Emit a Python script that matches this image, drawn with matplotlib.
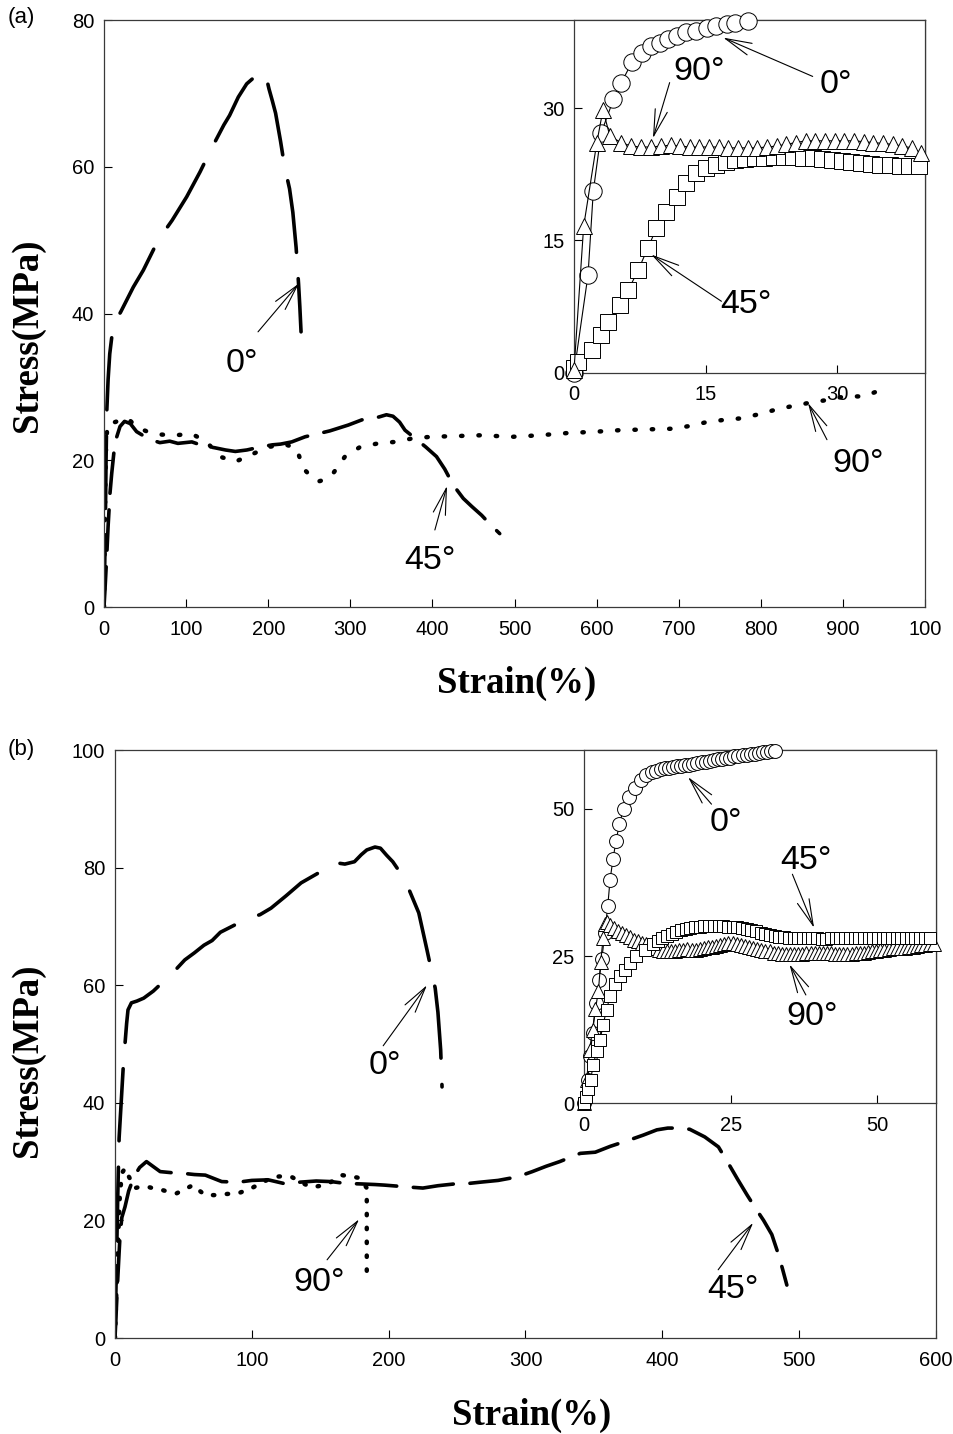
import matplotlib
matplotlib.use("Agg")
import matplotlib.pyplot as plt

plt.rcParams["font.family"] = ["Liberation Sans", "DejaVu Sans"]
plt.rcParams["lines.scale_dashes"] = False

# ---- panel (a): large-strain curves, strain (%) vs stress (MPa)
A0_STRAIN = [0, 1.5, 2.5, 3.5, 5, 7, 9.7, 14, 20.3, 35.7, 47.9, 66, 83, 100.7, 117, 131,
             146, 153, 163.6, 173.8, 182, 190, 194, 197, 201, 205, 209, 215, 220, 226,
             230, 234, 237, 238.5, 240]
A0_STRESS = [0, 10, 20, 27, 31, 34.5, 37, 39, 40.2, 43.6, 45.9, 50, 52.7, 55.9, 59.3, 62.5,
             65.7, 67, 69.5, 71.3, 72.1, 72.6, 72.2, 72.5, 70.6, 69, 67.3, 63.5, 60, 57,
             53.8, 49, 44, 41, 37.5]

A45_STRAIN = [0, 1.5, 3.3, 5, 7.3, 9.4, 12, 15, 19.5, 25, 32, 39.7, 50, 60, 68, 80, 90,
              107, 120, 135, 148, 160, 174, 190, 205, 215, 228.6, 245, 260, 275, 297.6,
              314, 325, 335, 344, 352, 360, 366.6, 378.8, 392, 405, 415, 425.5, 437.6,
              448, 460, 470, 482]
A45_STRESS = [0, 3, 6.9, 11, 15.5, 18.2, 21, 23, 24.6, 25.3, 25, 23.9, 23.2, 22.7, 22.4,
              22.6, 22.3, 22.5, 22, 21.7, 21.4, 21.2, 21.4, 21.8, 22.1, 22.2, 22.5, 23.2,
              23.6, 24.0, 24.8, 25.5, 25.7, 25.9, 26.2, 26.0, 25.2, 24.1, 23, 21.8, 20.5,
              18.8, 16.6, 14.8, 13.7, 12.5, 11.3, 10]

A90_STRAIN = [0, 0.8, 1.6, 2.5, 4, 8, 13.6, 20, 29, 40, 55, 70, 86, 107, 125, 141, 160,
              180, 200, 220, 234.6, 242.7, 252, 261, 270, 279, 293.5, 311.8, 334, 354.4,
              376.7, 399, 430, 458, 498, 530, 563.6, 600, 628.5, 660, 693, 715, 734, 755,
              774.7, 795, 815, 835, 857.8, 880, 902.5, 925, 947]
A90_STRESS = [0, 9, 17, 22, 24.5, 25.3, 25.2, 25.5, 25.7, 24.5, 23.8, 23.5, 23.4, 23.6,
              22.5, 20.5, 19.8, 20.8, 21.8, 22.2, 21.6, 18.9, 17.8, 17.1, 17.4, 18.2, 20.5,
              21.8, 22.3, 22.5, 23, 23.2, 23.3, 23.4, 23.2, 23.4, 23.7, 23.9, 24.1, 24.2,
              24.3, 24.7, 25.2, 25.5, 25.7, 26.2, 26.8, 27.3, 27.8, 28.2, 28.7, 28.7, 29.6]

# ---- panel (a) inset: initial region
IA_0_X = [0, 1.6, 2.2, 3.1, 4.5, 5.4, 6.6, 7.7, 8.8, 9.8, 10.7, 11.7, 12.8, 13.9, 15.1,
          16.2, 17.4, 18.3, 19.8]
IA_0_Y = [0, 11.1, 20.6, 27.2, 31.0, 32.9, 35.2, 36.3, 37.0, 37.4, 37.8, 38.2, 38.6, 38.8,
          39.1, 39.3, 39.5, 39.7, 39.9]

IA_45_X = [0, 0.5, 2.0, 3.1, 3.9, 5.2, 6.2, 7.3, 8.4, 9.4, 10.5, 11.7, 12.8, 13.9, 15.0,
           16.2, 17.3, 18.4, 19.5, 20.6, 21.7, 22.8, 23.9, 25.0, 26.1, 27.2, 28.3, 29.4,
           30.5, 31.6, 32.7, 33.8, 34.9, 36.0, 37.1, 38.2, 39.3]
IA_45_Y = [0.5, 1.2, 2.6, 4.3, 5.8, 7.7, 9.4, 11.6, 14.1, 16.4, 18.2, 19.9, 21.5, 22.6,
           23.2, 23.6, 23.9, 24.1, 24.2, 24.3, 24.4, 24.5, 24.5, 24.5, 24.4, 24.3, 24.2,
           24.1, 24.0, 23.9, 23.8, 23.7, 23.6, 23.5, 23.4, 23.4, 23.4]

IA_90_X = [0, 1.1, 2.6, 3.3, 4.1, 5.4, 6.5, 7.6, 8.8, 9.9, 11.0, 12.1, 13.2, 14.3, 15.4,
           16.5, 17.6, 18.7, 19.8, 20.9, 22.0, 23.1, 24.2, 25.3, 26.4, 27.5, 28.6, 29.7,
           30.8, 31.9, 33.0, 34.1, 35.2, 36.3, 37.4, 38.5, 39.6]
IA_90_Y = [0.3, 16.6, 26.1, 29.8, 26.8, 26.1, 25.7, 25.6, 25.6, 25.7, 25.8, 25.7, 25.6,
           25.6, 25.6, 25.6, 25.5, 25.5, 25.5, 25.5, 25.6, 25.7, 25.9, 26.1, 26.3, 26.3,
           26.3, 26.3, 26.3, 26.3, 26.2, 26.1, 26.0, 25.9, 25.7, 25.5, 24.9]

# ---- panel (b): large-strain curves
B0_STRAIN = [0, 1, 2, 3, 4.5, 6, 7.3, 8.5, 9.5, 12, 16, 21, 28, 38, 45, 51, 58, 65, 71, 77,
             88, 98, 106, 114, 125, 136, 148, 159, 168, 175, 180, 184, 190, 194, 198.5,
             203, 208, 212, 215, 222, 228, 234, 236, 238, 239]
B0_STRESS = [0, 12, 24, 34, 40, 46, 50, 53.5, 55.8, 57, 57.3, 57.8, 59, 61.2, 62.8, 64.3,
             65.5, 66.8, 67.6, 69, 70.3, 71.4, 72, 73.1, 75.2, 77.4, 79, 80.9, 80.6, 81,
             82.2, 83, 83.5, 83.3, 82.1, 81, 79.3, 78, 76.2, 72.3, 66, 59.5, 55.4, 49, 42.7]

B45_STRAIN = [0, 1, 2, 3, 3.7, 5, 7.3, 10, 14, 18, 23, 33, 42, 50, 58, 66, 78, 90, 100,
              112, 123, 135, 147, 158, 168, 180, 190, 197, 213, 225, 236, 248, 259, 267,
              280, 294, 305, 315, 325, 340, 351, 362, 375, 386, 396, 404, 411, 420, 431,
              441, 448, 455, 462, 468, 474, 480, 485, 488, 491]
B45_STRESS = [0, 5, 10, 14.5, 17.5, 20.5, 22.3, 25, 27.5, 29, 30, 28.3, 28.1, 28, 27.8,
              27.7, 26.6, 26.5, 26.8, 26.9, 26.3, 26.5, 26.7, 26.6, 26.3, 26.2, 26.1, 26,
              25.7, 25.5, 25.9, 26.2, 26.3, 26.5, 26.8, 27.4, 28.3, 29.2, 30, 31.4, 31.6,
              32.6, 33.6, 34.5, 35.4, 35.7, 35.7, 35.5, 34.2, 32.5, 29.8, 27, 24.3, 22.1,
              20, 17.6, 14.1, 11.6, 9]

B90_STRAIN = [0, 1, 2, 3.5, 5, 7.3, 10, 14.6, 20, 24, 29, 34, 40, 45, 51, 57, 62, 66, 71,
              75.5, 82, 90, 100, 108, 115.7, 122, 129, 136, 142.5, 148, 153.5, 160, 165.7,
              172, 179, 184, 184]
B90_STRESS = [0, 8, 15, 24, 28, 28.9, 27.5, 25.5, 25.8, 25.7, 25.4, 25.2, 24.8, 24.6, 25.3,
              26, 25, 24.3, 24.3, 24.3, 24.5, 24.6, 25.5, 26.5, 27.4, 27.5, 27.4, 26.5,
              25.7, 25.8, 26, 26.8, 27.7, 27.5, 27.2, 25.5, 11.2]

# ---- panel (b) inset
IB_0_X = [0, 0.6, 1.0, 1.4, 2.0, 2.5, 3.0, 3.5, 4.0, 4.4,
          4.9, 5.4, 6.0, 6.7, 7.6, 8.6, 9.6, 10.6, 11.5, 12.3,
          13.0, 13.7, 14.4, 15.1, 15.8, 16.5, 17.2, 17.9, 18.6, 19.3,
          20.0, 20.7, 21.4, 22.1, 22.8, 23.5, 24.2, 24.9, 25.6, 26.3,
          27.0, 27.7, 28.4, 29.1, 29.8, 30.5, 31.2, 31.9, 32.6]
IB_0_Y = [0, 4, 8, 12, 17, 21, 24.5, 29, 33.5, 38,
          41.5, 44.5, 47.5, 50, 52, 53.6, 54.9, 55.7, 56.2, 56.5,
          56.7, 56.9, 57.0, 57.1, 57.2, 57.3, 57.4, 57.5, 57.6, 57.8,
          57.9, 58.0, 58.1, 58.3, 58.4, 58.5, 58.6, 58.7, 58.9, 59.0,
          59.1, 59.2, 59.3, 59.4, 59.5, 59.6, 59.7, 59.8, 59.9]

IB_45_X = [0, 0.3, 0.7, 1.1, 1.5, 2.1, 2.7, 3.2, 3.8, 4.4,
           5.2, 6.1, 6.9, 7.8, 8.9, 10.3, 11.7, 12.5, 13.3, 14.1,
           14.9, 15.7, 16.5, 17.3, 18.1, 18.9, 19.7, 20.5, 21.3, 22.1,
           22.9, 23.7, 24.5, 25.3, 26.1, 26.9, 27.7, 28.5, 29.3, 30.1,
           30.9, 31.7, 32.5, 33.3, 34.1, 34.9, 35.7, 36.5, 37.3, 38.1,
           38.9, 39.7, 40.5, 41.3, 42.1, 42.9, 43.7, 44.5, 45.3, 46.1,
           46.9, 47.7, 48.5, 49.3, 50.1, 50.9, 51.7, 52.5, 53.3, 54.1,
           54.9, 55.7, 56.5, 57.3, 58.1, 58.9]
IB_45_Y = [0, 1.0, 2.5, 4.0, 6.5, 8.8, 10.8, 13.3, 15.9, 18.2,
           20.2, 21.6, 22.7, 23.9, 25.0, 26.1, 27.0, 27.5, 28.0, 28.4,
           28.8, 29.1, 29.4, 29.6, 29.8, 29.9, 30.0, 30.1, 30.1, 30.1,
           30.1, 30.1, 30.0, 30.0, 29.9, 29.8, 29.6, 29.4, 29.2, 29.0,
           28.8, 28.6, 28.4, 28.3, 28.2, 28.1, 28.0, 28.0, 28.1, 28.1,
           28.0, 28.0, 27.9, 27.9, 28.0, 28.1, 28.1, 28.0, 28.0, 28.0,
           28.1, 28.1, 28.0, 28.0, 28.0, 28.1, 28.1, 28.0, 28.0, 28.0,
           28.0, 28.1, 28.1, 28.0, 28.0, 28.0]

IB_90_X = [0, 0.4, 0.9, 1.4, 1.9, 2.4, 2.8, 3.2, 3.5, 3.8,
           4.3, 5.0, 5.7, 6.4, 7.1, 7.8, 8.5, 9.2, 9.9, 10.6,
           11.3, 12.0, 12.7, 13.4, 14.1, 14.8, 15.5, 16.2, 16.9, 17.6,
           18.3, 19.0, 19.7, 20.4, 21.1, 21.8, 22.5, 23.2, 23.9, 24.6,
           25.3, 26.0, 26.7, 27.4, 28.1, 28.8, 29.5, 30.2, 30.9, 31.6,
           32.3, 33.0, 33.7, 34.4, 35.1, 35.8, 36.5, 37.2, 37.9, 38.6,
           39.3, 40.0, 40.7, 41.4, 42.1, 42.8, 43.5, 44.2, 44.9, 45.6,
           46.3, 47.0, 47.7, 48.4, 49.1, 49.8, 50.5, 51.2, 51.9, 52.6,
           53.3, 54.0, 54.7, 55.4, 56.1, 56.8, 57.5, 58.2, 58.9, 59.6]
IB_90_Y = [0, 4, 9, 12.5, 16, 19, 24, 28, 30.5, 30.8,
           30.3, 29.8, 29.3, 28.9, 28.5, 28.2, 27.8, 27.5, 27.2, 27.0,
           26.7, 26.4, 26.1, 25.9, 25.8, 25.8, 25.9, 26.0, 26.1, 26.2,
           26.1, 26.1, 26.2, 26.3, 26.5, 26.6, 26.7, 26.9, 27.1, 27.2,
           27.2, 27.1, 26.9, 26.7, 26.5, 26.4, 26.2, 26.1, 25.9, 25.8,
           25.6, 25.5, 25.4, 25.3, 25.3, 25.3, 25.4, 25.4, 25.5, 25.5,
           25.5, 25.5, 25.6, 25.6, 25.5, 25.4, 25.3, 25.3, 25.3, 25.4,
           25.5, 25.5, 25.6, 25.7, 25.8, 25.9, 26.0, 26.1, 26.2, 26.3,
           26.3, 26.4, 26.4, 26.5, 26.6, 26.7, 26.8, 26.9, 27.0, 27.1]

A_XTICKS = [0, 100, 200, 300, 400, 500, 600, 700, 800, 900, 1000]
A_XTICKLABELS = ["0", "100", "200", "300", "400", "500", "600", "700", "800", "900", "100"]
A_YTICKS = [0, 20, 40, 60, 80]
B_XTICKS = [0, 100, 200, 300, 400, 500, 600]
B_YTICKS = [0, 20, 40, 60, 80, 100]

# line styles (on/off in points, round caps)
DASH_0 = (52, 19)
DASH_45 = (29, 12)
DOT_90_A = (1, 11.5)
DOT_90_B = (1, 9)
SPINE = "#3a3a3a"
TICK_FS = 14.5
ANG_FS = 24.5
LABEL_FONT = dict(family=["Liberation Serif", "DejaVu Serif"], weight="bold", size=26.5)


def _style(ax, xticks, yticks, xlim, ylim, xticklabels=None):
    ax.set_xlim(*xlim)
    ax.set_ylim(*ylim)
    ax.set_xticks(xticks)
    ax.set_yticks(yticks)
    if xticklabels is not None:
        ax.set_xticklabels(xticklabels)
    ax.tick_params(direction="in", length=6, width=0.8, labelsize=TICK_FS, pad=7,
                   colors="black")
    ax.tick_params(axis="x", pad=9)
    for sp in ax.spines.values():
        sp.set_linewidth(0.9)
        sp.set_edgecolor(SPINE)


def _curve(ax, x, y, dashes, lw=2.6):
    ax.plot(x, y, color="black", lw=lw, dashes=dashes,
            dash_capstyle="round", solid_capstyle="round")


def _markers(ax, x, y, marker, ms, z):
    ax.plot(x, y, color="black", lw=0.8, marker=marker, markersize=ms,
            markerfacecolor="white", markeredgecolor="black", markeredgewidth=0.7,
            clip_on=False, zorder=z)


def _tag(ax, text, tip, tail, pos):
    ax.annotate("", xy=tip, xytext=tail,
                arrowprops=dict(arrowstyle="->,head_length=1.9,head_width=0.45",
                                lw=0.8, color="black", mutation_scale=10,
                                shrinkA=0, shrinkB=0), zorder=6)
    ax.text(pos[0], pos[1], text, ha="center", va="center", fontsize=ANG_FS, zorder=6)


fig = plt.figure(figsize=(9.54, 14.34), dpi=100)
W, H = 954.0, 1434.0


def _rect(l, t, r, b):
    return [l / W, 1 - b / H, (r - l) / W, (b - t) / H]


# ---------------- panel (a)
ax_a = fig.add_axes(_rect(104, 20, 925, 607))
_curve(ax_a, A0_STRAIN, A0_STRESS, DASH_0)
_curve(ax_a, A45_STRAIN, A45_STRESS, DASH_45)
_curve(ax_a, A90_STRAIN, A90_STRESS, DOT_90_A, lw=3.2)
_style(ax_a, A_XTICKS, A_YTICKS, (0, 1000), (0, 80), A_XTICKLABELS)
_tag(ax_a, "0°", (237.5, 44.1), (187.6, 37.5), (168, 33.2))
_tag(ax_a, "45°", (417.8, 16.5), (403, 10.5), (397, 6.4))
_tag(ax_a, "90°", (857.5, 27.8), (880.6, 22.8), (918, 19.6))

ins_a = fig.add_axes(_rect(574, 20, 925, 372.7))
ins_a.set_facecolor("white")
_markers(ins_a, IA_0_X, IA_0_Y, "o", 12.5, 3)
_markers(ins_a, IA_45_X, IA_45_Y, "s", 11, 4)
_markers(ins_a, IA_90_X, IA_90_Y, "^", 12, 5)
_style(ins_a, [0, 15, 30], [0, 15, 30], (0, 40), (0, 40))
_tag(ins_a, "0°", (17.0, 38.0), (27.2, 33.6), (29.9, 32.7))
_tag(ins_a, "90°", (9.0, 26.6), (10.9, 32.9), (14.3, 34.2))
_tag(ins_a, "45°", (8.8, 13.4), (16.8, 8.1), (19.6, 7.7))

# ---------------- panel (b)
ax_b = fig.add_axes(_rect(115, 750, 936, 1338))
_curve(ax_b, B0_STRAIN, B0_STRESS, DASH_0)
_curve(ax_b, B45_STRAIN, B45_STRESS, DASH_45)
_curve(ax_b, B90_STRAIN, B90_STRESS, DOT_90_B, lw=3.2)
_style(ax_b, B_XTICKS, B_YTICKS, (0, 600), (0, 100))
_tag(ax_b, "0°", (228, 60), (196, 49.7), (197.4, 46.4))
_tag(ax_b, "90°", (178.4, 20.2), (155, 13.3), (149, 9.4))
_tag(ax_b, "45°", (466.4, 19.6), (440.8, 11.6), (451.8, 8.2))

ins_b = fig.add_axes(_rect(584.3, 750, 936, 1103.3))
ins_b.set_facecolor("white")
_markers(ins_b, IB_0_X, IB_0_Y, "o", 10, 3)
_markers(ins_b, IB_90_X, IB_90_Y, "^", 9.5, 4)
_markers(ins_b, IB_45_X, IB_45_Y, "s", 8.5, 5)
_style(ins_b, [0, 25, 50], [0, 25, 50], (0, 60), (0, 60))
_tag(ins_b, "0°", (17.7, 55.4), (21.7, 50.8), (24.2, 47.7))
_tag(ins_b, "45°", (39.2, 29.8), (35.5, 38.9), (37.8, 41.2))
_tag(ins_b, "90°", (35.0, 23.6), (37.8, 18.4), (38.9, 14.8))

# ---------------- labels
fig.text(21 / W, 1 - 17 / H, "(a)", ha="center", va="center", fontsize=16)
fig.text(21 / W, 1 - 750 / H, "(b)", ha="center", va="center", fontsize=16)
fig.text(28 / W, 1 - 335 / H, "Stress(MPa)", rotation=90, ha="center", va="center",
         **LABEL_FONT)
fig.text(28 / W, 1 - 1060 / H, "Stress(MPa)", rotation=90, ha="center", va="center",
         **LABEL_FONT)
fig.text(517 / W, 1 - 683 / H, "Strain(%)", ha="center", va="center", **LABEL_FONT)
fig.text(532 / W, 1 - 1415 / H, "Strain(%)", ha="center", va="center", **LABEL_FONT)

fig.savefig("out.png", dpi=100, facecolor="white")
